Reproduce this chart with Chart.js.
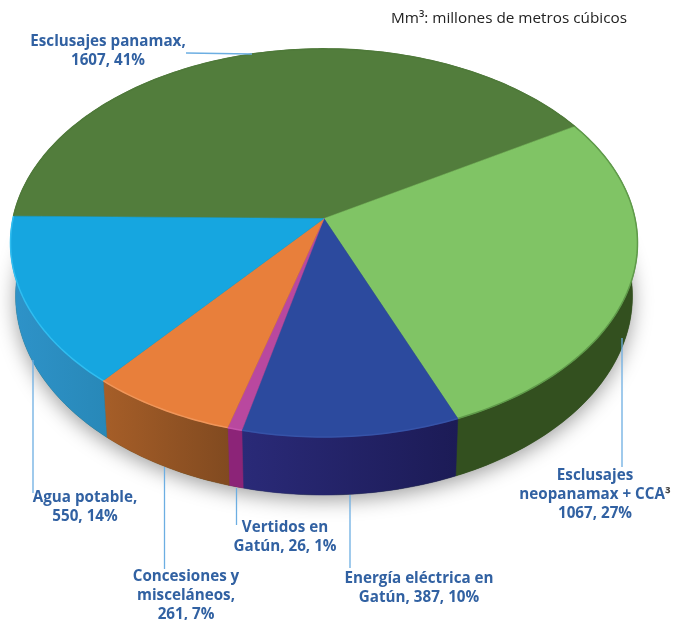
<!DOCTYPE html>
<html lang="es">
<head>
<meta charset="utf-8">
<title>Uso del agua</title>
<script src="https://cdn.jsdelivr.net/npm/chart.js@4"></script>
<style>
  html, body { margin: 0; background: #fff; }
  canvas { display: block; }
</style>
</head>
<body>
<canvas id="pie" width="689" height="620"></canvas>
<script>
(function () {
  'use strict';

  const categories = ['Esclusajes panamax', 'Esclusajes neopanamax + CCA', 'Energía eléctrica en Gatún', 'Vertidos en Gatún', 'Concesiones y misceláneos', 'Agua potable'];
  const volumes = [1607, 1067, 387, 26, 261, 550];
  const percents = [41, 27, 10, 1, 7, 14];
  const unitNote = 'Mm³: millones de metros cúbicos';

  // label text: lines above the figures, then what precedes them on the last line
  const labelHeads = [['Esclusajes panamax,'], ['Esclusajes', 'neopanamax + CCA³'], ['Energía eléctrica en'], ['Vertidos en'], ['Concesiones y', 'misceláneos,'], ['Agua potable,']];
  const labelPrefixes = ['', '', 'Gatún, ', 'Gatún, ', '', ''];

  const faceColors = ['#527d3c', '#80c465', '#2c4a9e', '#b9489f', '#e87f3b', '#16a6e0'];
  const rimColors = ['#4f7a3a', '#5f9a4a', '#3653a8', '#c655ad', '#f0965a', '#30bdf0'];
  const wallLeft = ['#33501f', '#33501f', '#2a2a78', '#8c2478', '#a65e28', '#2e93c9'];
  const wallRight = ['#33501f', '#33501f', '#1c1b56', '#8c2478', '#814a20', '#2888b8'];

  // tilted disc: top face and the slightly narrower base under it
  const top = { cx: 324, cy: 218.5, a: 311, b: 191 };
  const base = { cx: 324, cy: 271, a: 306, b: 195.8 };
  const persp = -0.126;

  function project(disc, angle) {
    const u = Math.cos(angle), v = Math.sin(angle);
    const w = 1 + persp * v;
    return [disc.cx + disc.a * u / w, disc.cy + disc.b * v / w];
  }

  function arcPoints(disc, from, to) {
    const steps = Math.max(2, Math.ceil((to - from) / 0.02));
    const pts = [];
    for (let i = 0; i <= steps; i++) pts.push(project(disc, from + (to - from) * i / steps));
    return pts;
  }

  function trace(ctx, pts, joined) {
    pts.forEach(([x, y], i) => (i || joined ? ctx.lineTo(x, y) : ctx.moveTo(x, y)));
  }

  // centred label line; a trailing ³ is set apart in dark grey
  function labelLine(ctx, line, x, y) {
    if (!line.endsWith('³')) { ctx.fillText(line, x, y); return; }
    const body = line.slice(0, -1);
    const full = ctx.measureText(line).width;
    const left = x - full / 2;
    ctx.save();
    ctx.textAlign = 'left';
    ctx.fillText(body, left, y);
    ctx.fillStyle = '#444';
    ctx.fillText('³', left + ctx.measureText(body).width, y);
    ctx.restore();
  }

  const tiltedPie = {
    id: 'tiltedPie',
    beforeDatasetsDraw(chart) {
      const ctx = chart.ctx;
      const arcs = chart.getDatasetMeta(0).data;

      // soft shadow cast by the base
      ctx.save();
      ctx.shadowColor = 'rgba(0,0,0,0.38)';
      ctx.shadowBlur = 20;
      ctx.shadowOffsetY = 5;
      ctx.fillStyle = '#33501f';
      ctx.beginPath();
      trace(ctx, arcPoints(base, 0, Math.PI * 2));
      ctx.closePath();
      ctx.fill();
      ctx.restore();

      // outer wall of each slice
      arcs.forEach((arc, i) => {
        const rim = arcPoints(top, arc.startAngle, arc.endAngle);
        const low = arcPoints(base, arc.startAngle, arc.endAngle);
        const xs = rim.concat(low).map((p) => p[0]);
        const grad = ctx.createLinearGradient(Math.min(...xs), 0, Math.max(...xs), 0);
        grad.addColorStop(0, wallLeft[i]);
        grad.addColorStop(1, wallRight[i]);
        ctx.fillStyle = grad;
        ctx.strokeStyle = grad;
        ctx.lineWidth = 0.5;
        ctx.beginPath();
        trace(ctx, rim.concat(low.reverse()));
        ctx.closePath();
        ctx.fill();
        ctx.stroke();
      });

      // top face
      arcs.forEach((arc, i) => {
        ctx.fillStyle = faceColors[i];
        ctx.strokeStyle = faceColors[i];
        ctx.lineWidth = 0.5;
        ctx.beginPath();
        ctx.moveTo(top.cx, top.cy);
        trace(ctx, arcPoints(top, arc.startAngle, arc.endAngle), true);
        ctx.closePath();
        ctx.fill();
        ctx.stroke();
      });

      // bevel along the rim
      arcs.forEach((arc, i) => {
        ctx.strokeStyle = rimColors[i];
        ctx.lineWidth = 1.5;
        ctx.beginPath();
        trace(ctx, arcPoints(top, arc.startAngle, arc.endAngle));
        ctx.stroke();
      });
      return false;
    },
    afterDraw(chart) {
      const ctx = chart.ctx;
      ctx.save();
      ctx.strokeStyle = '#6caee2';
      ctx.lineWidth = 1.3;
      leaderLines.forEach(([x1, y1, x2, y2]) => {
        ctx.beginPath();
        ctx.moveTo(x1, y1);
        ctx.lineTo(x2, y2);
        ctx.stroke();
      });

      ctx.textAlign = 'center';
      ctx.fillStyle = '#3161a2';
      ctx.font = 'bold 15.2px "Open Sans"';
      categories.forEach((name, i) => {
        const [x, y] = labelAnchors[i];
        const last = labelPrefixes[i] + volumes[i] + ', ' + percents[i] + '%';
        labelHeads[i].concat(last).forEach((line, k) => labelLine(ctx, line, x, y + k * 19));
      });

      ctx.textAlign = 'left';
      ctx.fillStyle = '#222';
      ctx.font = '15.3px "Open Sans"';
      ctx.fillText(unitNote, 391, 23);
      ctx.restore();
    },
  };

  const labelAnchors = [[108, 46], [595, 480], [419, 583], [285, 532], [186, 581], [85, 502]];
  const leaderLines = [[186, 53, 252, 54], [622, 338, 622, 467], [350, 495, 350, 568], [236.5, 488, 236.5, 525], [164.5, 467, 164.5, 569], [33, 360, 33, 493]];

  new Chart(document.getElementById('pie'), {
    type: 'pie',
    data: { labels: categories, datasets: [{ data: volumes, backgroundColor: faceColors, borderWidth: 0 }] },
    options: {
      responsive: false,
      animation: false,
      rotation: -89.3,
      plugins: { legend: { display: false }, tooltip: { enabled: false } },
    },
    plugins: [tiltedPie],
  });
})();
</script>
</body>
</html>
